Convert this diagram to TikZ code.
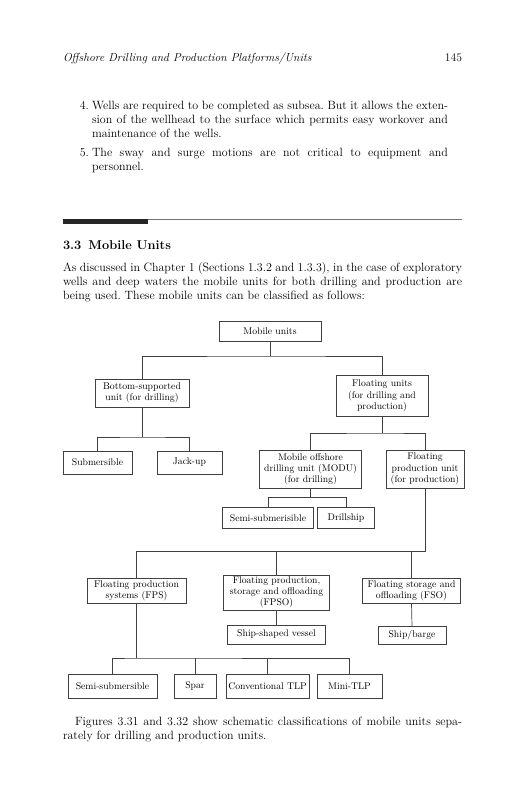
\documentclass[tikz,border=0pt]{standalone}
\usepackage{fontspec}
\frenchspacing
\newcommand{\bodyfont}{\fontsize{12}{14}\selectfont}
\newcommand{\jline}[1]{\makebox[399pt][s]{#1}}
\newcommand{\iline}[1]{\makebox[356pt][s]{#1}}
\tikzset{
	unit/.style={draw=black!75,line width=0.7pt,inner sep=1pt,align=center,
		font=\fontsize{9.7}{11.2}\selectfont},
	link/.style={draw=black!75,line width=0.7pt},
	page/.style={inner sep=0,outer sep=0,anchor=base west}
}
\begin{document}
\begin{tikzpicture}[x=1pt,y=-1pt]
	\useasboundingbox[fill=white] (0,0) rectangle (528,800);
	% running head
	\node[page] (head) at (63,62) {\fontsize{11.6}{13}\selectfont\itshape Offshore Drilling and Production Platforms/Units};
	\node[page,anchor=base east] (folio) at (462,62) {\fontsize{11.6}{13}\selectfont 145};
	% list items
	\node[page,anchor=base east] (num4) at (89,109) {\bodyfont 4.};
	\node[page] (item4) at (92,109) {\parbox[t]{356pt}{\bodyfont
		\iline{Wells are required to be completed as subsea. But it allows the exten-}\\
		\iline{sion of the wellhead to the surface which permits easy workover and}\\
		maintenance of the wells.}};
	\node[page,anchor=base east] (num5) at (89,156) {\bodyfont 5.};
	\node[page] (item5) at (92,156) {\parbox[t]{356pt}{\bodyfont
		\iline{The sway and surge motions are not critical to equipment and}\\
		personnel.}};
	% section rule and heading
	\fill[black!85] (63,219) rectangle (148,224);
	\draw[black!55,line width=0.9pt] (148,219.8) -- (462,219.8);
	\node[page] (sect) at (63,249) {\fontsize{12.8}{14}\selectfont\bfseries 3.3\hspace{7pt}Mobile Units};
	\node[page] (intro) at (63,271) {\parbox[t]{399pt}{\bodyfont
		\jline{As discussed in Chapter 1 (Sections 1.3.2 and 1.3.3), in the case of exploratory}\\
		\jline{wells and deep waters the mobile units for both drilling and production are}\\
		being used. These mobile units can be classified as follows:}};

	% classification chart
	\node[unit,minimum width=102pt,minimum height=20pt] (mobile) at (270,331) {Mobile units};
	\node[unit,minimum width=94pt,minimum height=28pt] (bottom) at (142,393) {Bottom-supported\\unit (for drilling)};
	\node[unit,minimum width=92pt,minimum height=41pt] (floating) at (382,396) {Floating units\\(for drilling and\\production)};
	\node[unit,minimum width=69pt,minimum height=23pt] (subm) at (97.5,462.5) {Submersible};
	\node[unit,minimum width=65pt,minimum height=23pt] (jackup) at (189.5,462.5) {Jack-up};
	\node[unit,minimum width=102pt,minimum height=38pt] (modu) at (310.5,469) {Mobile offshore\\drilling unit (MODU)\\(for drilling)};
	\node[unit,minimum width=78pt,minimum height=38pt] (fpu) at (425,469) {Floating\\production unit\\(for production)};
	\node[unit,minimum width=91pt,minimum height=21pt] (semimodu) at (268,518) {Semi-submerisible};
	\node[unit,minimum width=57pt,minimum height=21pt] (drillship) at (346,518) {Drillship};
	\node[unit,minimum width=99pt,minimum height=25pt] (fps) at (136.5,590.5) {Floating production\\systems (FPS)};
	\node[unit,minimum width=106pt,minimum height=35pt] (fpso) at (276.5,592.5) {Floating production,\\storage and offloading\\(FPSO)};
	\node[unit,minimum width=98pt,minimum height=25pt] (fso) at (411.5,590.5) {Floating storage and\\offloading (FSO)};
	\node[unit,minimum width=98pt,minimum height=19pt] (vessel) at (276.5,634.5) {Ship-shaped vessel};
	\node[unit,minimum width=68pt,minimum height=18pt] (barge) at (412,635.5) {Ship/barge};
	\node[unit,minimum width=89pt,minimum height=24pt] (semisub) at (112.5,686) {Semi-submersible};
	\node[unit,minimum width=42pt,minimum height=24pt] (spar) at (195,686) {Spar};
	\node[unit,minimum width=83pt,minimum height=24pt] (ctlp) at (267.5,686) {Conventional TLP};
	\node[unit,minimum width=65pt,minimum height=24pt] (minitlp) at (349.5,686) {Mini-TLP};

	\coordinate (bus1) at (270,356);
	\coordinate (bus2) at (142,437);
	\coordinate (bus3) at (382,433);
	\coordinate (bus4) at (310.5,497.5);
	\coordinate (bus5) at (425,551);
	\coordinate (bus6) at (136.5,658);

	\draw[link] (mobile.south) -- (bus1);
	\draw[link] (bottom.north) |- (bus1) -| (floating.north);
	\draw[link] (bottom.south) -- (bus2);
	\draw[link] (subm.north) |- (bus2) -| (jackup.north);
	\draw[link] (floating.south) -- (bus3);
	\draw[link] (modu.north) |- (bus3) -| (fpu.north);
	\draw[link] (modu.south) -- (bus4);
	\draw[link] (semimodu.north) |- (bus4) -| (drillship.north);
	\draw[link] (fpu.south) -- (bus5) -| (fps.north);
	\draw[link] (fpso.north) -- (fpso.north |- bus5);
	\draw[link] (fso.north) -- (fso.north |- bus5);
	\draw[link] (fpso.south) -- (vessel.north);
	\draw[link] (fso.south) -- (barge.north);
	\draw[link] (fps.south) -- (bus6);
	\draw[link] (semisub.north) |- (bus6) -| (minitlp.north);
	\draw[link] (spar.north) -- (spar.north |- bus6);
	\draw[link] (ctlp.north) -- (ctlp.north |- bus6);

	% closing text
	\node[page] (outro) at (63,725) {\parbox[t]{399pt}{\bodyfont
		\jline{\hspace{12pt}Figures 3.31 and 3.32 show schematic classifications of mobile units sepa-}\\
		rately for drilling and production units.}};
\end{tikzpicture}
\end{document}
